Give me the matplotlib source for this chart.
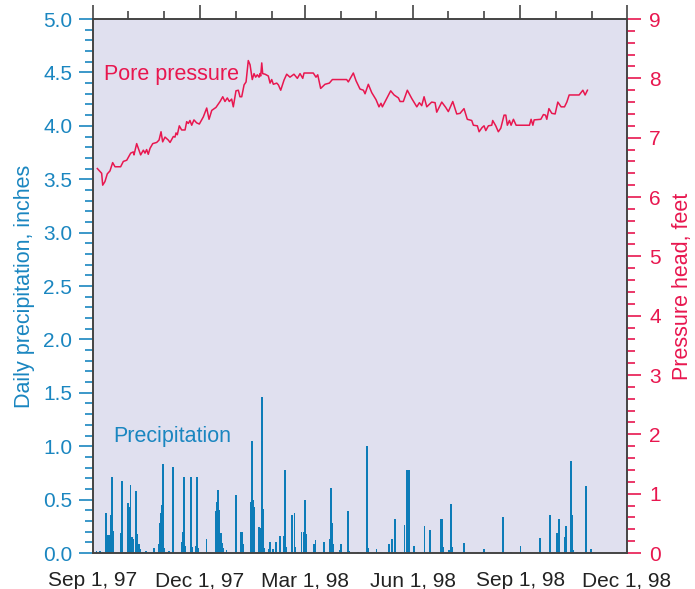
import datetime as dt
import numpy as np
import matplotlib
matplotlib.use("Agg")
import matplotlib.pyplot as plt
import matplotlib.dates as mdates
from matplotlib.ticker import MultipleLocator, FuncFormatter

plt.rcParams['font.family'] = ['Liberation Sans', 'DejaVu Sans']

START = dt.datetime(1997, 9, 1)
END = dt.datetime(1998, 12, 1)

# Daily precipitation (days after Sep 1, 1997 ; inches)
precip_day = [3, 6, 11, 12, 13, 14, 15, 16, 17, 24, 25, 30, 31, 32, 33, 34, 37, 38, 39, 40,
              45, 52, 56, 57, 58, 59, 60, 61, 65, 68, 76, 77, 78, 79, 84, 85, 88, 89, 90, 97,
              105, 106, 107, 108, 109, 110, 111, 114, 122, 126, 127, 128, 135, 136, 137, 138,
              142, 143, 144, 145, 146, 150, 151, 154, 156, 160, 163, 164, 165, 170, 172, 173,
              178, 180, 181, 182, 189, 190, 193, 197, 202, 203, 204, 205, 211, 212, 218, 219,
              226, 234, 235, 242, 253, 255, 258, 259, 263, 266, 268, 270, 274, 276, 283, 288,
              297, 298, 299, 304, 306, 307, 316, 317, 333, 334, 350, 357, 365, 382, 383, 390,
              396, 398, 403, 404, 408, 409, 410, 413, 421, 425]
precip_in = [0.02, 0.02, 0.37, 0.17, 0.17, 0.17, 0.36, 0.71, 0.21, 0.19, 0.67, 0.47, 0.43, 0.64,
             0.15, 0.13, 0.58, 0.18, 0.08, 0.04, 0.02, 0.05, 0.08, 0.28, 0.37, 0.45, 0.83, 0.05,
             0.02, 0.81, 0.10, 0.20, 0.71, 0.07, 0.71, 0.06, 0.07, 0.71, 0.05, 0.13, 0.39, 0.48,
             0.59, 0.40, 0.19, 0.09, 0.05, 0.03, 0.54, 0.20, 0.20, 0.08, 0.48, 1.05, 0.50, 0.43,
             0.24, 0.23, 1.46, 0.41, 0.05, 0.04, 0.10, 0.04, 0.10, 0.16, 0.16, 0.78, 0.06, 0.36,
             0.37, 0.06, 0.20, 0.20, 0.50, 0.18, 0.08, 0.12, 0.01, 0.10, 0.13, 0.61, 0.28, 0.08,
             0.03, 0.08, 0.39, 0.02, 0.01, 1.00, 0.05, 0.04, 0.08, 0.13, 0.32, 0.01, 0.01, 0.26,
             0.78, 0.78, 0.07, 0.01, 0.25, 0.22, 0.32, 0.32, 0.06, 0.03, 0.46, 0.06, 0.01, 0.09,
             0.01, 0.04, 0.34, 0.01, 0.07, 0.14, 0.01, 0.36, 0.19, 0.32, 0.15, 0.25, 0.86, 0.36,
             0.03, 0.01, 0.63, 0.04]

# Pore pressure head (days after Sep 1, 1997 ; feet)
pressure_day = [3.7, 7.4, 8.3, 10.2, 12.2, 14.5, 16.8, 18.8, 23.6, 25.9, 28.8, 32.2, 34.4, 35.0,
                37.3, 40.7, 43.0, 44.4, 45.8, 47.2, 48.7, 51.0, 54.4, 56.4, 58.1, 59.5, 61.5,
                64.3, 65.8, 68.6, 70.0, 70.9, 72.0, 73.7, 75.7, 78.6, 80.0, 81.4, 82.8, 84.3,
                86.2, 88.5, 90.8, 94.2, 97.1, 99.1, 101.4, 105.0, 108.5, 110.8, 112.7, 114.7,
                116.4, 118.4, 119.8, 122.1, 124.1, 125.5, 127.0, 129.0, 130.7, 132.6, 134.1,
                136.0, 137.5, 138.9, 140.3, 141.8, 142.6, 143.2, 144.1, 144.9, 146.9, 149.7,
                151.2, 152.6, 154.0, 156.9, 158.3, 160.3, 163.1, 165.4, 168.2, 171.6, 174.5,
                176.8, 179.1, 180.2, 188.1, 190.4, 191.9, 194.4, 198.1, 201.8, 204.4, 216.6,
                218.0, 222.3, 224.6, 228.0, 230.9, 232.3, 235.1, 238.0, 241.7, 244.2, 245.9,
                247.1, 254.2, 257.1, 260.8, 262.2, 265.0, 268.4, 272.2, 276.5, 278.7, 280.7,
                282.7, 285.0, 289.2, 292.1, 293.5, 297.8, 301.2, 303.4, 307.2, 310.6, 313.4,
                316.8, 319.6, 323.4, 324.8, 328.2, 329.7, 332.2, 333.9, 335.4, 337.6, 340.5,
                341.3, 343.9, 346.1, 348.2, 351.0, 352.5, 353.8, 355.6, 357.0, 359.0, 361.3,
                372.7, 374.1, 375.6, 376.7, 382.4, 384.6, 386.4, 387.5, 389.3, 391.8, 394.6,
                396.9, 399.7, 402.6, 404.6, 406.6, 415.1, 418.3, 420.2, 422.2]
pressure_ft = [6.48, 6.40, 6.20, 6.26, 6.39, 6.44, 6.58, 6.51, 6.51, 6.60, 6.62, 6.74, 6.76, 6.71,
               6.90, 6.71, 6.79, 6.74, 6.80, 6.72, 6.82, 6.90, 6.92, 6.96, 7.10, 6.93, 7.01,
               6.96, 6.92, 7.02, 7.01, 7.08, 7.05, 7.20, 7.13, 7.13, 7.27, 7.24, 7.29, 7.21,
               7.30, 7.25, 7.23, 7.35, 7.50, 7.31, 7.46, 7.51, 7.61, 7.69, 7.61, 7.67,
               7.61, 7.65, 7.52, 7.79, 7.80, 7.69, 7.69, 7.89, 7.94, 8.30, 8.23,
               7.98, 8.08, 8.02, 8.06, 8.02, 8.08, 8.04, 8.26, 8.08, 8.07, 8.04,
               7.92, 7.98, 7.90, 7.92, 7.89, 7.80, 7.97, 8.07, 8.02, 8.07, 8.00,
               8.08, 8.00, 8.09, 8.09, 8.02, 8.06, 7.83, 7.90, 7.92, 7.98, 7.98,
               7.94, 8.09, 7.96, 7.82, 7.80, 7.74, 7.90, 7.76, 7.64, 7.52, 7.58,
               7.52, 7.79, 7.72, 7.67, 7.61, 7.61, 7.80, 7.66, 7.52, 7.59, 7.54,
               7.69, 7.52, 7.60, 7.59, 7.43, 7.60, 7.51, 7.44, 7.61, 7.40, 7.41,
               7.49, 7.31, 7.29, 7.21, 7.20, 7.10, 7.17, 7.20, 7.12, 7.20, 7.21,
               7.29, 7.20, 7.10, 7.16, 7.38, 7.38, 7.21, 7.29, 7.21, 7.31, 7.21,
               7.21, 7.31, 7.21, 7.30, 7.31, 7.39, 7.38, 7.31, 7.49, 7.41, 7.40,
               7.60, 7.52, 7.52, 7.60, 7.72, 7.72, 7.80, 7.72, 7.80]

BLUE = "#1a86c0"
BAR_BLUE = "#0d7cb8"
RED = "#e8174f"
SPINE = "#444444"
BG = "#e0e0ef"

t0 = mdates.date2num(START)
px = t0 + np.array(precip_day, dtype=float)
tx = t0 + np.array(pressure_day, dtype=float)

fig = plt.figure(figsize=(6.95, 5.89), dpi=100)
ax = fig.add_axes([0.1338, 0.0611, 0.7684, 0.9066])
ax.set_facecolor(BG)

ax.bar(px, precip_in, width=1.5, color=BAR_BLUE, linewidth=0, zorder=2)
ax.set_ylim(0, 5.0)
ax.set_xlim(mdates.date2num(START), mdates.date2num(END))

ax.yaxis.set_major_locator(MultipleLocator(0.5))
ax.yaxis.set_minor_locator(MultipleLocator(0.1))
ax.yaxis.set_major_formatter(FuncFormatter(lambda v, p: f"{v:.1f}"))
ax.tick_params(axis='y', which='major', direction='out', length=10, width=1.2,
               color=BLUE, labelcolor=BLUE, labelsize=15, pad=5)
ax.tick_params(axis='y', which='minor', direction='out', length=6, width=1.2, color=BLUE)
ax.set_ylabel("Daily precipitation, inches", color=BLUE, fontsize=15.5, labelpad=6)

ax.xaxis.set_major_locator(mdates.MonthLocator(bymonth=[3, 6, 9, 12]))
ax.xaxis.set_minor_locator(mdates.MonthLocator())
ax.xaxis.set_major_formatter(FuncFormatter(
    lambda v, p: (lambda d: f"{d:%b} {d.day}, {d:%y}")(mdates.num2date(v))))
ax.tick_params(axis='x', which='both', bottom=False, top=True, labelbottom=True,
               labeltop=False, direction='out', color=SPINE, width=1.2)
ax.tick_params(axis='x', which='major', length=10, labelsize=15, pad=3, labelcolor="#222222")
ax.tick_params(axis='x', which='minor', length=6)

ax2 = ax.twinx()
ax2.plot(tx, pressure_ft, color=RED, linewidth=1.1, zorder=3)
ax2.set_ylim(0, 9)
ax2.yaxis.set_major_locator(MultipleLocator(1))
ax2.yaxis.set_minor_locator(MultipleLocator(0.2))
ax2.tick_params(axis='y', which='major', direction='out', length=10, width=1.2,
                color=RED, labelcolor=RED, labelsize=15, pad=6)
ax2.tick_params(axis='y', which='minor', direction='out', length=6, width=1.2, color=RED)
ax2.set_ylabel("Pressure head, feet", color=RED, fontsize=15.5, labelpad=8)

for a in (ax, ax2):
    for s in a.spines.values():
        s.set_color(SPINE)
        s.set_linewidth(1.2)

ax.text(0.02, 0.897, "Pore pressure", transform=ax.transAxes, color=RED,
        fontsize=15.5, va='center', ha='left')
ax.text(0.038, 0.219, "Precipitation", transform=ax.transAxes, color=BLUE,
        fontsize=15.5, va='center', ha='left')

fig.savefig("out.png", dpi=100, facecolor="white")
